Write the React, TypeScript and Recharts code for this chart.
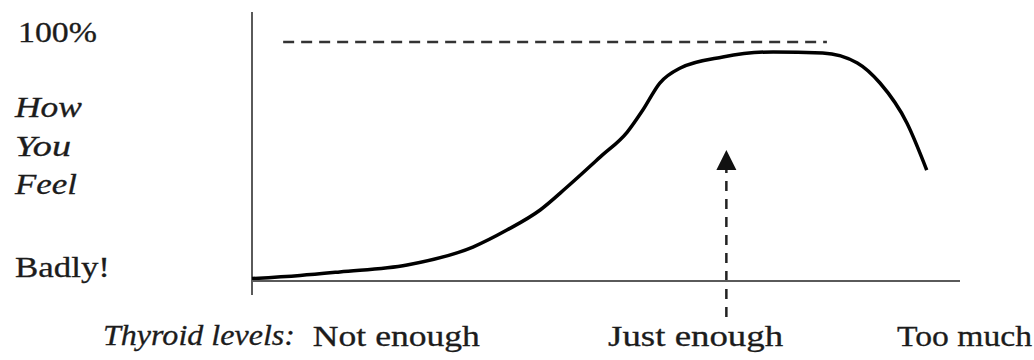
import React from "react";
import {
  LineChart,
  Line,
  XAxis,
  YAxis,
  ReferenceLine,
  ReferenceDot,
} from "recharts";

// thyroid level (0-100 along the axis) vs how you feel (100 = 100%)
const levelX = [0, 6.8, 12.4, 21.9, 31.2, 36.0, 40.7, 44.5, 49.2, 53.0, 55.2, 57.6, 60.5, 66.5, 73.6, 80.6, 85.5, 88.7, 92.5, 95.3];
const feelY = [1, 2.3, 3.8, 6.7, 14.2, 21.3, 29.7, 39.3, 51.9, 62.3, 71.5, 82.8, 89.1, 93.7, 95.8, 95.4, 91.2, 82.8, 66.1, 46.4];

const levelTicks = [8.6, 50.3, 91.1];
const levelLabels = ["Not enough", "Just enough", "Too much"];
const levelWidths = [167, 175, 135];

const fullFeel = 100;
const fullFrom = 4.4;
const fullTo = 81.2;
const justEnough = 67;
const arrowTip = 54.8;
const arrowBottom = -15.1;

const data = levelX.map((x, i) => ({ x, feel: feelY[i] }));

const FONT = "'Liberation Serif', 'Times New Roman', Times, serif";
const INK = "#1c1c1c";

function LevelTick(props: any) {
  const { x, y, index } = props;
  return (
    <text
      x={x}
      y={y + 65}
      style={{ fontFamily: FONT, fontSize: 29 }}
      fill={INK}
      stroke={INK}
      strokeWidth={0.3}
      textLength={levelWidths[index]}
      lengthAdjust="spacingAndGlyphs"
    >
      {levelLabels[index]}
    </text>
  );
}

function ArrowHead(props: any) {
  const { cx, cy } = props;
  if (cx == null || cy == null) return null;
  return <path d={`M${cx},${cy} L${cx - 10},${cy + 20} L${cx + 10},${cy + 20} Z`} fill="#111" />;
}

function SideLabel({ x, y, w, italic, children }: any) {
  return (
    <text
      x={x}
      y={y}
      style={{ fontFamily: FONT, fontSize: 29, fontStyle: italic ? "italic" : "normal" }}
      fill={INK}
      stroke={INK}
      strokeWidth={0.3}
      textLength={w}
      lengthAdjust="spacingAndGlyphs"
    >
      {children}
    </text>
  );
}

export default function App() {
  return (
    <div style={{ position: "absolute", left: 0, top: 0, width: 1034, height: 360, background: "#fff" }}>
      <LineChart
        width={1034}
        height={360}
        data={data}
        margin={{ top: 12, right: 74, bottom: 0, left: 252 }}
      >
        <XAxis
          type="number"
          dataKey="x"
          domain={[0, 100]}
          ticks={levelTicks}
          height={79}
          tickLine={false}
          tickSize={0}
          tickMargin={0}
          axisLine={{ stroke: "#5a5a5a", strokeWidth: 2 }}
          tick={<LevelTick />}
          interval={0}
        />
        <YAxis type="number" domain={[0, 112.5]} hide width={0} />
        <ReferenceLine
          segment={[{ x: 0, y: -5.9 }, { x: 0, y: 112.5 }]}
          stroke="#5a5a5a"
          strokeWidth={2}
          ifOverflow="visible"
        />
        <ReferenceLine
          segment={[{ x: fullFrom, y: fullFeel }, { x: fullTo, y: fullFeel }]}
          stroke="#333"
          strokeWidth={2.5}
          strokeDasharray="11 7"
          ifOverflow="visible"
        />
        <ReferenceLine
          segment={[{ x: justEnough, y: arrowBottom }, { x: justEnough, y: arrowTip - 8 }]}
          stroke="#222"
          strokeWidth={2.5}
          strokeDasharray="10 8"
          ifOverflow="visible"
        />
        <ReferenceDot x={justEnough} y={arrowTip} ifOverflow="visible" shape={<ArrowHead />} />
        <Line
          type="monotone"
          dataKey="feel"
          stroke="#000"
          strokeWidth={3.5}
          dot={false}
          activeDot={false}
          isAnimationActive={false}
        />
      </LineChart>
      <svg
        width={1034}
        height={360}
        style={{ position: "absolute", left: 0, top: 0, pointerEvents: "none" }}
      >
        <SideLabel x={18} y={42} w={79}>100%</SideLabel>
        <SideLabel x={15} y={117} w={67} italic>How</SideLabel>
        <SideLabel x={15} y={156} w={56} italic>You</SideLabel>
        <SideLabel x={15} y={194} w={62} italic>Feel</SideLabel>
        <SideLabel x={15} y={277} w={95}>Badly!</SideLabel>
        <SideLabel x={103} y={345} w={192} italic>Thyroid levels:</SideLabel>
      </svg>
    </div>
  );
}
